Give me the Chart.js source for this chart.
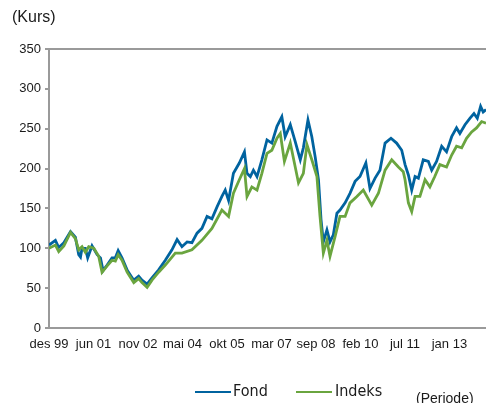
<!DOCTYPE html>
<html>
<head>
<meta charset="utf-8">
<script src="https://cdn.jsdelivr.net/npm/chart.js@4.4.1/dist/chart.umd.min.js"></script>
<style>
  body { margin: 0; background: #fff; }
  #wrap { position: relative; width: 486px; height: 403px; overflow: hidden; }
  canvas { position: absolute; left: 0; top: 0; }
  .txt { position: absolute; color: #1a1a1a; font-family: "Liberation Sans", Arial, sans-serif; white-space: nowrap; }
  .narrow { font-family: "Liberation Sans Narrow", "Arial Narrow", "DejaVu Sans Condensed", sans-serif; }
  .key { position: absolute; height: 2px; }
</style>
</head>
<body>
<div id="wrap">
  <canvas id="chart" width="486" height="403"></canvas>
  <div class="txt" style="left:12px; top:8px; font-size:16px;">(Kurs)</div>
  <div class="key" id="keyFond" style="left:195px; top:391px; width:36px;"></div>
  <div class="txt narrow" id="labFond" style="left:233px; top:381px; font-size:16px;"></div>
  <div class="key" id="keyIndeks" style="left:296px; top:391px; width:36px;"></div>
  <div class="txt narrow" id="labIndeks" style="left:335px; top:381px; font-size:16px;"></div>
  <div class="txt" style="left:416px; top:390px; font-size:14px;">(Periode)</div>
</div>
<script>
// months since des 99
const fondMonth = [0.0, 2.5, 3.8, 5.8, 8.4, 10.3, 11.6, 12.3, 12.9, 14.2, 15.1, 16.8, 18.8, 20.1, 21.1, 22.7,
  24.6, 25.9, 27.0, 28.5, 30.6, 33.1, 35.0, 36.3, 38.3, 40.2, 42.8, 45.4, 48.0, 50.0, 51.9, 53.9, 55.8,
  57.8, 59.7, 61.7, 63.6, 65.6, 67.5, 68.8, 70.1, 72.0, 74.3, 76.3, 77.3, 78.6, 79.8, 81.2, 83.1, 85.1,
  87.0, 89.0, 90.9, 92.2, 94.2, 96.1, 98.1, 99.3, 101.1, 102.6, 103.9, 105.2, 106.2, 107.1, 108.5, 109.7,
  111.0, 112.4, 113.6, 115.6, 117.5, 119.5, 121.4, 123.7, 125.3, 127.3, 129.2, 131.2, 133.5, 135.7, 137.7,
  139.0, 140.3, 141.6, 142.9, 144.2, 146.1, 148.1, 149.4, 151.3, 153.3, 155.2, 157.2, 159.1, 160.4, 162.4,
  164.3, 165.9, 167.2, 168.5, 169.5, 170.6];
const fondValue = [104, 110, 101, 107, 121, 114, 92, 89, 100, 100, 88, 103, 92, 88, 72, 79,
  88, 88, 97, 88, 72, 60, 65, 60, 55, 63, 73, 85, 98, 111, 102, 108, 107,
  119, 125, 140, 137, 152, 165, 173, 160, 194, 207, 221, 194, 190, 198, 190, 211, 236,
  232, 253, 265, 240, 255, 234, 211, 226, 261, 240, 215, 186, 136, 108, 123, 108,
  117, 144, 148, 157, 169, 184, 190, 207, 175, 188, 198, 232, 238, 232, 223,
  205, 192, 173, 190, 188, 211, 209, 198, 209, 228, 221, 240, 251, 244, 255,
  263, 269, 263, 278, 271, 274];

const indeksMonth = [0.0, 2.5, 3.8, 5.8, 8.4, 10.3, 11.6, 12.9, 14.2, 15.5, 17.5, 19.4, 20.7, 22.7,
  24.6, 25.9, 27.0, 28.5, 30.5, 33.1, 35.0, 36.3, 38.3, 40.2, 42.8, 45.4, 49.3, 51.9, 55.8, 59.7,
  63.6, 67.5, 70.1, 72.0, 74.3, 76.3, 77.3, 79.2, 81.2, 83.1, 85.1, 87.0, 89.0, 90.3, 91.9, 94.2,
  97.4, 99.3, 100.7, 102.6, 104.6, 105.8, 107.1, 108.5, 109.7, 111.7, 113.6, 115.6, 117.5, 120.2,
  122.7, 126.0, 128.6, 131.2, 133.8, 136.4, 138.3, 139.0, 140.3, 141.6, 142.9, 144.8, 146.8, 148.7,
  150.6, 152.6, 155.2, 157.2, 159.1, 161.1, 163.0, 165.0, 166.9, 168.9, 170.6];
const indeksValue = [100, 104, 96, 103, 120, 112, 98, 102, 95, 102, 100, 90, 70, 78,
  85, 84, 92, 85, 70, 57, 62, 57, 51, 60, 70, 79, 94, 94, 98, 110,
  125, 148, 140, 169, 186, 200, 165, 177, 173, 194, 219, 223, 238, 244, 209, 232,
  182, 194, 230, 211, 190, 140, 94, 110, 90, 115, 140, 140, 157, 165,
  173, 154, 169, 198, 211, 202, 196, 186, 157, 146, 165, 165, 186, 177,
  190, 205, 202, 217, 228, 226, 238, 246, 251, 259, 257];

const tickMonths = [0, 17.37, 34.74, 52.11, 69.48, 86.85, 104.22, 121.59, 138.96, 156.33];
const tickLabels = ["des 99", "jun 01", "nov 02", "mai 04", "okt 05", "mar 07", "sep 08", "feb 10", "jul 11", "jan 13"];

const fondColor = "#00639f";
const indeksColor = "#6aa53f";

document.getElementById("keyFond").style.background = fondColor;
document.getElementById("keyIndeks").style.background = indeksColor;
document.getElementById("labFond").textContent = "Fond";
document.getElementById("labIndeks").textContent = "Indeks";

function toPoints(xs, ys) {
  return xs.map((x, i) => ({ x: x, y: ys[i] }));
}

const axisGrey = "#9a9a9a";

new Chart(document.getElementById("chart"), {
  type: "line",
  data: {
    datasets: [
      {
        label: "Fond",
        data: toPoints(fondMonth, fondValue),
        borderColor: fondColor,
        borderWidth: 2.8,
        pointRadius: 0,
        tension: 0,
        order: 2,
      },
      {
        label: "Indeks",
        data: toPoints(indeksMonth, indeksValue),
        borderColor: indeksColor,
        borderWidth: 2.8,
        pointRadius: 0,
        tension: 0,
        order: 1,
      },
    ],
  },
  options: {
    responsive: false,
    animation: false,
    layout: { padding: { top: 49, right: 0, bottom: 45, left: 0 } },
    plugins: { legend: { display: false }, tooltip: { enabled: false } },
    scales: {
      x: {
        type: "linear",
        min: 0,
        max: 170.6,
        afterFit: (scale) => { scale.height = 30; },
        afterBuildTicks: (scale) => { scale.ticks = tickMonths.map((v) => ({ value: v })); },
        grid: { display: false, drawTicks: false },
        border: { display: true, color: axisGrey, width: 2 },
        ticks: {
          autoSkip: false,
          maxRotation: 0,
          padding: 9,
          color: "#1a1a1a",
          font: { family: "'Liberation Sans Narrow', 'Arial Narrow', sans-serif", size: 13 },
          callback: (value, index) => tickLabels[index],
        },
      },
      y: {
        min: 0,
        max: 350,
        afterFit: (scale) => { scale.width = 49; },
        grid: {
          color: (ctx) => (ctx.tick && ctx.tick.value === 350 ? axisGrey : "rgba(0,0,0,0)"),
          lineWidth: 2,
          tickColor: axisGrey,
          tickLength: 4,
          drawTicks: true,
        },
        border: { display: true, color: axisGrey, width: 2 },
        ticks: {
          stepSize: 50,
          padding: 4,
          color: "#1a1a1a",
          font: { family: "'Liberation Sans', Arial, sans-serif", size: 13 },
        },
      },
    },
  },
});
</script>
</body>
</html>
